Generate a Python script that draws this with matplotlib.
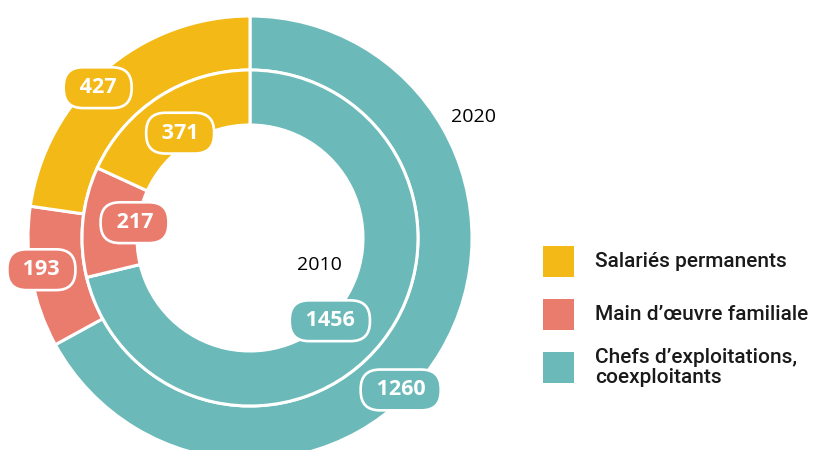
import numpy as np
import matplotlib.pyplot as plt
from matplotlib.patches import Rectangle

# data, clockwise from the top
categories = ['Chefs d\u2019exploitations,\ncoexploitants',
              'Main d\u2019\u0153uvre familiale',
              'Salariés permanents']
values_2020 = [1260, 193, 427]
values_2010 = [1456, 217, 371]
colors = ['#6BBAB9', '#EA7C6E', '#F3BA17']

W, H = 815, 450
fig = plt.figure(figsize=(W / 100, H / 100), dpi=100)
ax = fig.add_axes([0, 0, 1, 1])

cx, cy = 250, H - 238
r_out, r_mid, r_in = 222, 168, 113
edge = dict(edgecolor='white', linewidth=2.2)

outer, _ = ax.pie(values_2020, radius=r_out, center=(cx, cy), colors=colors,
                  startangle=90, counterclock=False,
                  wedgeprops=dict(width=r_out - r_mid, **edge))
inner, _ = ax.pie(values_2010, radius=r_mid, center=(cx, cy), colors=colors,
                  startangle=90, counterclock=False,
                  wedgeprops=dict(width=r_mid - r_in, **edge))

ax.set_xlim(0, W)
ax.set_ylim(0, H)
ax.set_aspect('equal')
ax.axis('off')


def label(wedge, value, color, shift, r):
    ang = np.deg2rad((wedge.theta1 + wedge.theta2) / 2 + shift)
    x, y = cx + r * np.cos(ang), cy + r * np.sin(ang)
    ax.text(x, y, f' {value} ', ha='center', va='center', color='white',
            fontsize=15.5, fontweight='bold', family='Open Sans',
            bbox=dict(boxstyle='round,pad=0.46,rounding_size=0.9',
                      fc=color, ec='white', lw=1.9))


# label placement (angle shift from wedge middle, radius)
out_shift, out_r = [-14.6, -1.6, 4.5], [214, 211, 214]
in_shift, in_r = [-7.8, -2.0, 1.0], [115, 116.5, 126]
for i, w in enumerate(outer):
    label(w, values_2020[i], colors[i], out_shift[i], out_r[i])
for i, w in enumerate(inner):
    label(w, values_2010[i], colors[i], in_shift[i], in_r[i])

ax.text(cx + 223, cy + 121, '2020', ha='center', va='center', fontsize=14,
        family='Open Sans', color='black')
ax.text(cx + 69, cy - 27, '2010', ha='center', va='center', fontsize=14,
        family='Open Sans', color='black')

# legend, drawn by hand
for i, (cat, col) in enumerate(zip(categories[::-1], colors[::-1])):
    yc = H - 261.5 - i * 53
    ax.add_patch(Rectangle((543, yc - 15.5), 31, 31, fc=col, ec='none'))
    ax.text(595, yc, cat, ha='left', va='center', fontsize=15,
            family='Roboto', fontweight='medium', color='#1a1a1a',
            linespacing=1.1)

fig.savefig('out.png', dpi=100)
